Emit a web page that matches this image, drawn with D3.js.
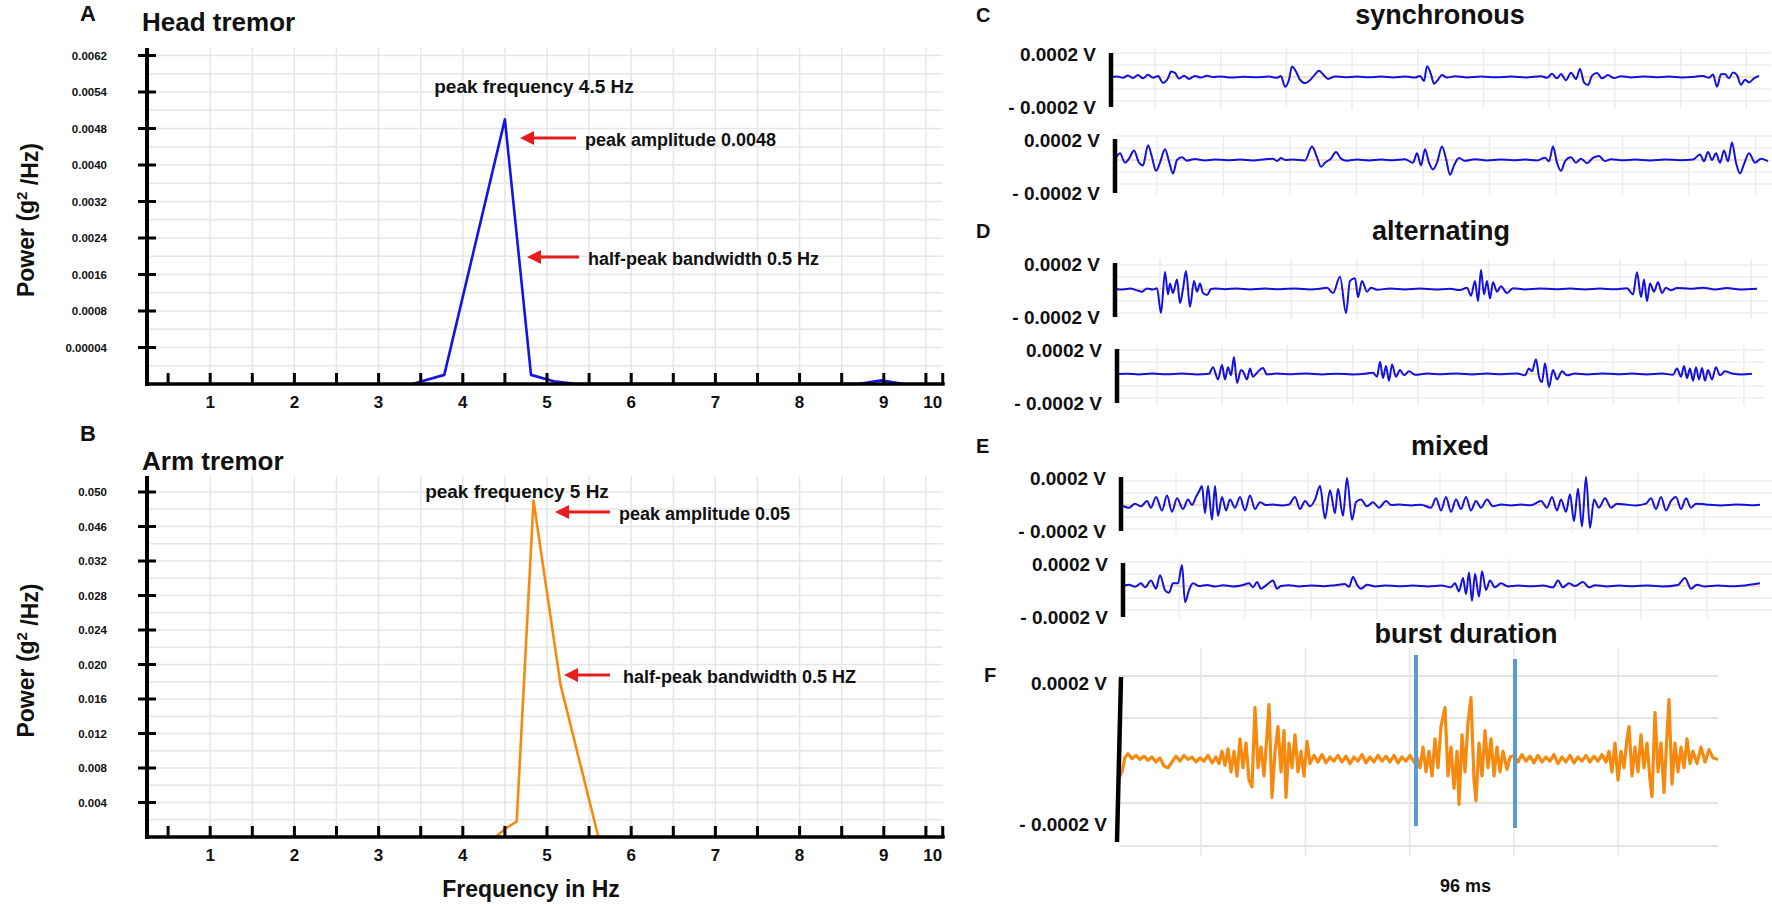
<!DOCTYPE html>
<html><head><meta charset="utf-8">
<script src="https://cdn.jsdelivr.net/npm/d3@7"></script>
<style>body{margin:0;background:#fff}text{font-family:"Liberation Sans",Arial,sans-serif;font-weight:bold;fill:#111}</style>
</head><body><svg id="c" width="1772" height="907"></svg>
<script>
// ---------- data: spectra ----------
const headFreq  = [3.40, 3.78, 4.50, 4.81, 5.08, 5.35, 8.70, 8.97, 9.24];
const headPower = [0, 0.00001, 0.00495, 0.00001, 0.000003, 0, 0, 0.000004, 0];
const armFreq   = [4.39, 4.51, 4.64, 4.84, 5.16, 5.61];
const armPower  = [0, 0.001, 0.0018, 0.049, 0.0177, 0];
const yTicksA = [0.00004, 0.0008, 0.0016, 0.0024, 0.0032, 0.0040, 0.0048, 0.0054, 0.0062];
const yTickLabelsA = ["0.00004","0.0008","0.0016","0.0024","0.0032","0.0040","0.0048","0.0054","0.0062"];
const yTicksB = [0.004, 0.008, 0.012, 0.016, 0.020, 0.024, 0.028, 0.032, 0.046, 0.050];
const yTickLabelsB = ["0.004","0.008","0.012","0.016","0.020","0.024","0.028","0.032","0.046","0.050"];
const xTicks = [1,2,3,4,5,6,7,8,9,9.7];
const xTickLabels = ["1","2","3","4","5","6","7","8","9","10"];

// ---------- data: EMG traces [ms, µV] ----------
const traceC1 = [[0,0],[6,4],[12,-6],[17,12],[22,-8],[27,14],[32,-10],[37,16],[42,-6],[47,8],[52,-44],[57,-10],[60,40],[64,30],[68,-12],[73,10],[78,-14],[84,8],[90,-4],[96,10],[102,0],[110,4],[120,-4],[132,2],[145,-2],[158,3],[166,-6],[170,8],[174,-72],[178,-20],[181,78],[185,40],[189,-20],[194,-46],[198,-30],[203,10],[208,46],[212,20],[217,-14],[224,4],[234,-2],[246,3],[258,-2],[270,3],[282,-3],[294,4],[304,-4],[309,8],[313,-30],[316,80],[320,20],[323,-50],[327,-20],[331,14],[336,-4],[344,6],[356,-3],[370,3],[385,-2],[400,3],[415,-4],[430,6],[436,-6],[441,24],[446,-10],[450,22],[455,-24],[460,32],[465,-14],[469,60],[473,-40],[477,-60],[481,10],[486,30],[491,-10],[497,14],[503,-8],[510,6],[520,-3],[532,4],[545,-2],[558,3],[570,-3],[584,2],[592,8],[598,-6],[602,18],[606,-72],[610,20],[614,22],[618,-10],[622,34],[626,14],[630,-58],[634,-20],[638,-40],[643,-10],[648,8]];
const traceC2 = [[0,0],[5,50],[10,-20],[14,10],[19,70],[24,-20],[28,-40],[33,110],[37,20],[41,-80],[45,-20],[50,80],[54,-10],[58,-100],[62,0],[67,20],[72,-5],[80,8],[90,-3],[100,4],[112,-2],[125,3],[138,-3],[150,5],[158,10],[162,-8],[166,14],[170,0],[178,4],[190,-3],[197,100],[202,20],[206,-50],[210,-20],[216,10],[221,60],[226,10],[232,-5],[242,4],[254,-3],[266,3],[278,-2],[290,5],[298,-20],[302,50],[306,-40],[310,80],[314,-20],[318,-70],[322,-20],[327,100],[331,10],[335,-110],[339,-40],[344,14],[350,-6],[360,6],[372,-3],[385,4],[398,-2],[410,3],[422,-4],[430,16],[434,-10],[438,100],[442,-20],[446,-80],[450,-10],[456,20],[461,-20],[466,10],[472,-24],[478,16],[484,30],[490,-8],[496,6],[508,-2],[520,3],[535,-3],[550,4],[565,-2],[578,3],[585,40],[589,-10],[593,60],[597,0],[601,50],[605,-20],[609,70],[613,-10],[617,130],[621,-20],[625,-100],[629,-30],[634,50],[640,-20],[646,10],[653,-8]];
const traceD1 = [[0,0],[8,-4],[15,3],[22,-10],[27,-20],[32,4],[38,-3],[42,6],[46,-178],[50,126],[53,-40],[55,40],[58,-30],[62,70],[65,-104],[68,0],[71,133],[75,-133],[79,60],[82,-20],[85,40],[88,-30],[92,-44],[96,0],[100,4],[110,-2],[122,4],[135,-3],[150,3],[165,-2],[180,4],[195,-3],[205,2],[212,10],[218,-30],[225,90],[231,-178],[235,60],[240,80],[243,-60],[247,60],[252,-20],[256,10],[262,-6],[275,4],[290,-3],[305,3],[320,-4],[335,2],[345,-8],[352,10],[356,-50],[360,60],[363,-90],[366,140],[369,-40],[372,60],[375,-70],[378,50],[382,-20],[386,20],[392,-30],[398,6],[410,-3],[425,4],[440,-2],[455,3],[470,-4],[485,3],[500,-2],[512,6],[518,-40],[522,125],[526,-60],[529,70],[532,-90],[535,40],[539,-20],[543,50],[547,-30],[551,10],[556,-10],[562,8],[575,2],[588,10],[600,-3],[612,8],[625,-4],[642,2]];
const traceD2 = [[0,0],[10,2],[22,-3],[35,3],[50,-2],[65,3],[80,-3],[92,2],[96,50],[101,-40],[105,66],[108,-40],[111,50],[114,-10],[117,126],[120,-66],[124,30],[126,20],[130,-40],[133,40],[136,-20],[140,10],[146,44],[150,-4],[160,3],[175,-2],[190,4],[205,-3],[220,2],[235,-3],[250,4],[256,10],[260,-20],[263,90],[266,-30],[269,60],[272,-50],[275,70],[279,-20],[283,30],[287,-10],[292,20],[298,-5],[310,3],[325,-2],[340,4],[355,-3],[370,3],[385,-2],[400,4],[408,-10],[412,40],[415,20],[419,110],[422,-20],[425,-60],[428,80],[432,-96],[436,30],[440,-40],[445,20],[450,-10],[458,3],[470,-3],[485,4],[500,-2],[515,3],[530,-3],[545,4],[556,-6],[560,40],[564,-20],[567,60],[570,-30],[573,40],[576,-50],[579,50],[582,-40],[585,45],[588,-50],[591,30],[595,-40],[599,50],[603,-10],[608,20],[615,4],[625,-3],[635,2]];
const traceE1 = [[0,0],[8,-20],[14,10],[20,-10],[26,30],[30,-20],[35,60],[41,-40],[46,70],[51,-50],[56,50],[62,-30],[67,40],[71,0],[75,60],[78,100],[81,140],[84,-60],[87,140],[91,-110],[94,140],[97,-80],[101,60],[105,-40],[109,40],[114,-20],[119,60],[124,-40],[129,70],[134,-30],[139,20],[145,0],[152,4],[160,-3],[168,4],[174,60],[179,-30],[184,30],[189,-10],[194,40],[199,140],[204,-100],[209,110],[214,-60],[217,120],[222,-80],[226,200],[231,-110],[235,20],[240,40],[246,-10],[252,20],[258,-20],[265,30],[270,0],[278,4],[290,-3],[300,2],[310,-20],[315,50],[320,-40],[325,60],[330,-50],[335,40],[340,-30],[345,60],[350,-40],[355,30],[360,-20],[366,40],[372,-10],[380,4],[390,-3],[400,3],[410,-2],[420,30],[426,-20],[431,60],[436,-40],[440,40],[445,-50],[449,80],[453,-120],[457,120],[461,-160],[465,210],[469,-170],[473,40],[478,-20],[484,50],[490,-20],[496,10],[505,3],[515,-3],[525,10],[530,50],[535,-30],[540,60],[545,-40],[550,30],[555,60],[560,-30],[565,50],[570,-20],[575,10],[585,4],[600,-3],[615,4],[630,-2],[639,2]];
const traceE2 = [[0,0],[6,10],[12,-6],[18,20],[22,-10],[28,40],[33,-20],[37,80],[42,-30],[46,-50],[50,20],[55,20],[59,156],[62,-120],[66,-30],[70,20],[76,0],[84,8],[92,-4],[100,6],[110,-3],[120,8],[126,20],[130,-10],[134,30],[138,-20],[144,10],[150,40],[154,-20],[158,0],[166,6],[176,-3],[188,4],[200,-2],[212,6],[222,14],[226,-6],[230,66],[234,10],[238,-20],[244,10],[252,-3],[262,4],[275,-2],[290,3],[305,-3],[318,4],[328,-10],[332,20],[336,-40],[340,60],[343,-60],[346,100],[349,-110],[352,90],[356,-80],[359,110],[363,-30],[367,40],[372,-10],[378,20],[385,-4],[395,3],[408,-2],[420,3],[430,-10],[435,40],[440,-10],[446,20],[452,0],[460,30],[466,-10],[472,6],[484,-3],[496,3],[510,-2],[525,4],[540,-3],[555,8],[562,60],[568,-20],[574,10],[582,-4],[595,3],[610,-2],[622,4],[637,20]];
const traceF = [[0,-44],[3,-30],[6,5],[9,14],[13,2],[17,10],[21,0],[25,8],[29,-2],[33,6],[37,-6],[41,4],[45,-16],[49,-20],[53,-6],[57,8],[61,-4],[65,10],[69,0],[73,6],[77,-6],[81,4],[85,-4],[89,10],[93,-8],[97,6],
[100,-10],[103,20],[106,-14],[109,26],[112,-30],[115,20],[118,-40],[121,50],[124,-20],[127,40],[130,-50],[133,-66],[136,126],[139,-20],[142,30],[145,-40],[148,60],[150,133],[153,-92],[156,20],[159,80],[162,-30],[165,70],[167,-92],[170,40],[173,-20],[176,60],[179,-30],[182,20],[185,-40],[188,44],[191,-10],[195,10],
[199,-6],[203,12],[207,-8],[211,6],[215,-4],[219,10],[223,-6],[227,8],[231,-10],[235,6],[239,-4],[243,12],[247,-8],[251,6],[255,-6],[259,10],[263,-4],[267,8],[271,-6],[275,10],[279,-8],[283,6],[287,-4],[291,10],[295,-6],
[298,4],[301,-20],[304,30],[307,-30],[310,20],[313,-40],[316,50],[319,-20],[322,80],[326,126],[329,-40],[332,30],[335,-70],[338,20],[340,-109],[343,60],[346,-30],[349,90],[352,150],[355,-50],[357,-100],[360,40],[363,-40],[366,70],[369,-20],[372,50],[375,-40],[378,30],[381,-30],[384,20],[388,-24],[391,6],
[395,10],[399,-6],[403,12],[407,-4],[411,8],[415,-8],[419,10],[423,-6],[427,6],[431,-4],[435,12],[439,-10],[443,6],[447,-6],[451,10],[455,-8],[459,6],[463,-4],[467,10],[471,-6],[475,8],[479,-4],[483,12],[487,-6],
[490,20],[493,-30],[496,40],[499,-50],[502,20],[505,-20],[508,50],[510,80],[513,-40],[516,30],[519,-30],[522,60],[525,-20],[528,40],[531,-50],[533,-90],[536,114],[539,-30],[542,40],[545,-80],[548,60],[550,145],[553,-60],[556,40],[559,-30],[562,30],[565,-20],[568,50],[571,-10],[574,20],
[578,-10],[582,30],[586,-6],[590,24],[594,4],[599,0]];
const burstMarks = [297, 396];
const burstLabel = "96 ms";
const voltLabels = ["0.0002 V", "- 0.0002 V"];

const svg = d3.select("#c");

// ---------- left spectra panels ----------
const x = d3.scaleLinear().domain([0,10]).range([126,968]);
const xEnd = 9.7;
function spectrum(o){
  const g = svg.append("g");
  const pos = [o.base, ...o.ticks.map((_,i)=>o.base-(i+1)*o.step)];
  const y = d3.scaleLinear().domain([0,...o.ticks]).range(pos);
  const ax = 147;
  for(let v=1; v<=xEnd+0.001; v+=0.5) g.append("line").attr("x1",x(v)).attr("x2",x(v)).attr("y1",o.top).attr("y2",o.base).attr("stroke","#e6e6e6").attr("stroke-width",1.5);
  for(let yy=o.base-o.step/2; yy>=o.top; yy-=o.step/2) g.append("line").attr("x1",ax).attr("x2",x(xEnd)).attr("y1",yy).attr("y2",yy).attr("stroke","#e6e6e6").attr("stroke-width",1.5);
  g.append("path").datum(o.freq.map((f,i)=>[f,o.power[i]]))
    .attr("d",d3.line().x(d=>x(d[0])).y(d=>y(d[1])))
    .attr("fill","none").attr("stroke",o.color).attr("stroke-width",2.6).attr("stroke-linejoin","round");
  g.append("line").attr("x1",ax).attr("x2",ax).attr("y1",o.top).attr("y2",o.base+2).attr("stroke","#000").attr("stroke-width",4);
  o.ticks.forEach((t,i)=>{
    g.append("line").attr("x1",ax-9).attr("x2",ax+9).attr("y1",y(t)).attr("y2",y(t)).attr("stroke","#000").attr("stroke-width",3);
    g.append("text").attr("x",ax-40).attr("y",y(t)).attr("dy","0.35em").attr("text-anchor","end").attr("font-size",11.5).text(o.labels[i]);
  });
  g.append("line").attr("x1",ax-2).attr("x2",x(xEnd)+2).attr("y1",o.base).attr("y2",o.base).attr("stroke","#000").attr("stroke-width",3.5);
  const tk = d3.range(0.5, 9.51, 0.5).concat([xEnd]);
  tk.forEach(v=>g.append("line").attr("x1",x(v)).attr("x2",x(v)).attr("y1",o.base).attr("y2",o.base-11).attr("stroke","#000").attr("stroke-width",3));
  xTicks.forEach((t,i)=>g.append("text").attr("x",x(t)-(i===9?10:0)).attr("y",o.base+o.labOff).attr("dy","0.35em").attr("text-anchor","middle").attr("font-size",17).text(xTickLabels[i]));
  g.append("text").attr("x",80).attr("y",o.letterY).attr("dy","0.35em").attr("font-size",22).text(o.letter);
  g.append("text").attr("x",142).attr("y",o.titleY).attr("dy","0.35em").attr("font-size",26).text(o.title);
  const yl = g.append("text").attr("transform",`translate(26,${(o.top+o.base)/2+4}) rotate(-90)`).attr("text-anchor","middle").attr("dy","0.35em").attr("font-size",23);
  yl.append("tspan").text("Power (g");
  yl.append("tspan").attr("dy","-0.45em").attr("font-size",15).text("2");
  yl.append("tspan").attr("dy","0.45em").text(" /Hz)");
  g.append("text").attr("x",o.pf[0]).attr("y",o.pf[1]).attr("dy","0.35em").attr("text-anchor","middle").attr("font-size",19).text(o.pf[2]);
  o.arrows.forEach(a=>{
    g.append("line").attr("x1",a[0]).attr("x2",a[1]+10).attr("y1",a[2]).attr("y2",a[2]).attr("stroke","#e81c1c").attr("stroke-width",3);
    g.append("path").attr("d",`M${a[1]},${a[2]} l14,-7 l0,14 z`).attr("fill","#e81c1c");
    g.append("text").attr("x",a[3]).attr("y",a[2]+2).attr("dy","0.35em").attr("font-size",18).text(a[4]);
  });
}
spectrum({base:384, step:36.5, top:48, ticks:yTicksA, labels:yTickLabelsA, freq:headFreq, power:headPower, color:"#1414e6", labOff:18,
  letter:"A", letterY:13, title:"Head tremor", titleY:22,
  pf:[534,86,"peak frequency 4.5 Hz"],
  arrows:[[576,520,138,585,"peak amplitude 0.0048"],[579,527,257,588,"half-peak bandwidth 0.5 Hz"]]});
spectrum({base:837, step:34.5, top:476, ticks:yTicksB, labels:yTickLabelsB, freq:armFreq, power:armPower, color:"#f7890f", labOff:18,
  letter:"B", letterY:433, title:"Arm tremor", titleY:461,
  pf:[517,491,"peak frequency 5 Hz"],
  arrows:[[610,555,512,619,"peak amplitude 0.05"],[610,564,675,623,"half-peak bandwidth 0.5 HZ"]]});
svg.append("text").attr("x",531).attr("y",889).attr("dy","0.35em").attr("text-anchor","middle").attr("font-size",23).text("Frequency in Hz");

// ---------- right EMG panels ----------
const rows = [
  {data:traceC1, bx:1111, top:53,  bot:107, ty:77,  end:1759, g0:1155, gs:65.7},
  {data:traceC2, bx:1115, top:139, bot:193, ty:160, end:1768, g0:1157, gs:66.5},
  {data:traceD1, bx:1115, top:263, bot:317, ty:289, end:1757, g0:1160, gs:65.7},
  {data:traceD2, bx:1117, top:349, bot:403, ty:374, end:1752, g0:1157, gs:65.2},
  {data:traceE1, bx:1121, top:477, bot:531, ty:505, end:1760, g0:1176, gs:66},
  {data:traceE2, bx:1123, top:563, bot:617, ty:586, end:1760, g0:1179, gs:66},
];
rows.forEach(r=>{
  const g = svg.append("g");
  const n = r.data[r.data.length-1][0];
  const xs = d3.scaleLinear().domain([0,n]).range([r.bx, r.end]);
  const ys = d3.scaleLinear().domain([-200,200]).range([r.ty+27, r.ty-27]);
  for(let gx=r.g0; gx<r.end+4; gx+=r.gs) g.append("line").attr("x1",gx).attr("x2",gx).attr("y1",r.top-4).attr("y2",r.bot+2).attr("stroke","#ececec").attr("stroke-width",1.5);
  [-24,-12,12,24].forEach(d=>g.append("line").attr("x1",r.bx).attr("x2",r.end+12).attr("y1",r.ty+d).attr("y2",r.ty+d).attr("stroke","#eeeeee").attr("stroke-width",1.5));
  g.append("line").attr("x1",r.bx).attr("x2",r.end).attr("y1",r.ty).attr("y2",r.ty).attr("stroke","#f8d2ad").attr("stroke-width",1.5);
  g.append("path").datum(r.data).attr("d",d3.line().x(d=>xs(d[0])).y(d=>ys(d[1])).curve(d3.curveMonotoneX))
    .attr("fill","none").attr("stroke","#1212e0").attr("stroke-width",2).attr("stroke-linejoin","round");
  g.append("line").attr("x1",r.bx).attr("x2",r.bx).attr("y1",r.top).attr("y2",r.bot).attr("stroke","#000").attr("stroke-width",4.5);
  g.append("text").attr("x",r.bx-15).attr("y",r.top+1).attr("dy","0.35em").attr("text-anchor","end").attr("font-size",19).text(voltLabels[0]);
  g.append("text").attr("x",r.bx-15).attr("y",r.bot).attr("dy","0.35em").attr("text-anchor","end").attr("font-size",19).text(voltLabels[1]);
});
[["C",15,"synchronous",1440],["D",231,"alternating",1441],["E",446,"mixed",1450]].forEach(t=>{
  svg.append("text").attr("x",976).attr("y",t[1]).attr("dy","0.35em").attr("font-size",20).text(t[0]);
  svg.append("text").attr("x",t[3]).attr("y",t[1]).attr("dy","0.35em").attr("text-anchor","middle").attr("font-size",27).text(t[2]);
});
svg.append("text").attr("x",1466).attr("y",634).attr("dy","0.35em").attr("text-anchor","middle").attr("font-size",27).text("burst duration");
svg.append("text").attr("x",984).attr("y",675).attr("dy","0.35em").attr("font-size",20).text("F");

{
  const g = svg.append("g");
  const bx=1119, end=1718, top=677, bot=842;
  const n = traceF[traceF.length-1][0];
  const xs = d3.scaleLinear().domain([0,n]).range([bx,end]);
  const ys = d3.scaleLinear().domain([-200,200]).range([bot,top]);
  for(let gx=1201; gx<end; gx+=104.3) g.append("line").attr("x1",gx).attr("x2",gx).attr("y1",648).attr("y2",856).attr("stroke","#e6e6e6").attr("stroke-width",1.5);
  [676,718,803,846].forEach(yy=>g.append("line").attr("x1",bx).attr("x2",end).attr("y1",yy).attr("y2",yy).attr("stroke","#e3e3e3").attr("stroke-width",2));
  g.append("path").datum(traceF).attr("d",d3.line().x(d=>xs(d[0])).y(d=>ys(d[1])))
    .attr("fill","none").attr("stroke","#f7890f").attr("stroke-width",3.2).attr("stroke-linejoin","round");
  burstMarks.forEach((m,i)=>g.append("line").attr("x1",xs(m)).attr("x2",xs(m)).attr("y1",655+i*4).attr("y2",826+i*2).attr("stroke","#5b9bd5").attr("stroke-width",4));
  g.append("text").attr("x",xs((burstMarks[0]+burstMarks[1])/2)).attr("y",886).attr("dy","0.35em").attr("text-anchor","middle").attr("font-size",18).text(burstLabel);
  g.append("line").attr("x1",bx+2).attr("x2",bx-2).attr("y1",top).attr("y2",bot).attr("stroke","#000").attr("stroke-width",4.5);
  g.append("text").attr("x",bx-12).attr("y",top+6).attr("dy","0.35em").attr("text-anchor","end").attr("font-size",19).text(voltLabels[0]);
  g.append("text").attr("x",bx-12).attr("y",bot-18).attr("dy","0.35em").attr("text-anchor","end").attr("font-size",19).text(voltLabels[1]);
}
</script></body></html>
